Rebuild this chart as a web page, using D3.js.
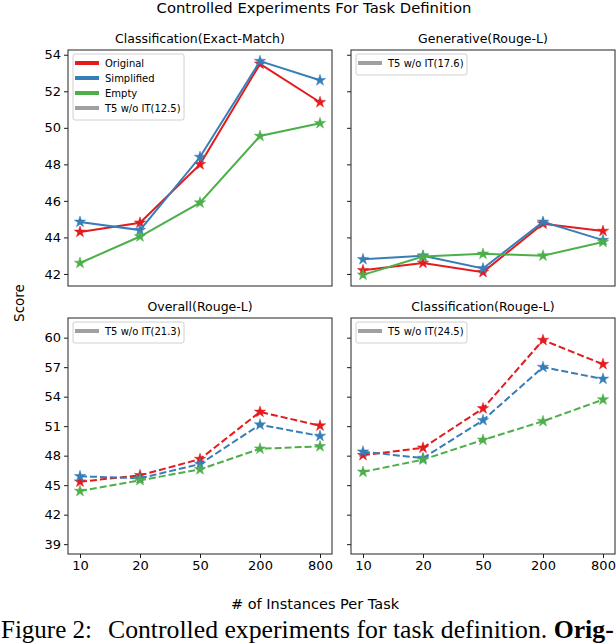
<!DOCTYPE html>
<html>
<head>
<meta charset="utf-8">
<script src="https://cdn.jsdelivr.net/npm/d3@7"></script>
<style>
  body { margin: 0; background: #fff; }
  text { font-family: "DejaVu Sans", sans-serif; fill: #000; }
</style>
</head>
<body>
<div id="chart"></div>
<script>
var instances = ["10", "20", "50", "200", "800"];
var seriesNames = ["Original", "Simplified", "Empty"];
var seriesColors = ["#e41a1c", "#377eb8", "#4daf4a"];

// Classification(Exact-Match)
var clsEmOriginal   = [44.3, 44.8, 48.0, 53.5, 51.4];
var clsEmSimplified = [44.85, 44.4, 48.4, 53.65, 52.6];
var clsEmEmpty      = [42.6, 44.05, 45.9, 49.55, 50.25];

// Generative(Rouge-L)
var genOriginal   = [42.2, 42.6, 42.1, 44.75, 44.35];
var genSimplified = [42.8, 43.0, 42.3, 44.85, 43.85];
var genEmpty      = [41.95, 42.95, 43.1, 43.0, 43.75];

// Overall(Rouge-L)
var allOriginal   = [45.35, 46.0, 47.65, 52.45, 51.05];
var allSimplified = [45.9, 45.7, 47.15, 51.15, 50.0];
var allEmpty      = [44.4, 45.5, 46.6, 48.7, 48.95];

// Classification(Rouge-L)
var clsRlOriginal   = [48.05, 48.8, 52.8, 59.75, 57.3];
var clsRlSimplified = [48.4, 47.75, 51.6, 57.0, 55.8];
var clsRlEmpty      = [46.35, 47.6, 49.6, 51.5, 53.7];

var topTicks = [42, 44, 46, 48, 50, 52, 54];
var bottomTicks = [39, 42, 45, 48, 51, 54, 57, 60];
var t5Labels = ["T5 w/o IT(12.5)", "T5 w/o IT(17.6)", "T5 w/o IT(21.3)", "T5 w/o IT(24.5)"];

var panels = [
  {title: "Classification(Exact-Match)", data: [clsEmOriginal, clsEmSimplified, clsEmEmpty],
   left: 68, top: 50, row: 0, col: 0, t5: t5Labels[0], full: true},
  {title: "Generative(Rouge-L)", data: [genOriginal, genSimplified, genEmpty],
   left: 351, top: 50, row: 0, col: 1, t5: t5Labels[1]},
  {title: "Overall(Rouge-L)", data: [allOriginal, allSimplified, allEmpty],
   left: 68, top: 318, row: 1, col: 0, t5: t5Labels[2]},
  {title: "Classification(Rouge-L)", data: [clsRlOriginal, clsRlSimplified, clsRlEmpty],
   left: 351, top: 318, row: 1, col: 1, t5: t5Labels[3]}
];

var W = 616, H = 644;
var pw = 264, ph = 236;

var svg = d3.select("#chart").append("svg")
    .attr("width", W)
    .attr("height", H);

svg.append("text")
    .attr("x", 314).attr("y", 13)
    .attr("text-anchor", "middle")
    .style("font-size", "14.8px")
    .text("Controlled Experiments For Task Definition");

var x = d3.scaleLinear().domain([-0.2, 4.2]).range([0, pw]);
var yTop = d3.scaleLinear().domain([41.34, 54.26]).range([ph, 0]);
var yBottom = d3.scaleLinear().domain([38, 62]).range([ph, 0]);

var star = d3.symbol().type(d3.symbolStar).size(40);

panels.forEach(function(p) {
  var y = p.row == 0 ? yTop : yBottom;
  var g = svg.append("g").attr("transform", "translate(" + p.left + "," + p.top + ")");

  g.append("text")
      .attr("x", pw / 2).attr("y", -7)
      .attr("text-anchor", "middle")
      .style("font-size", "12.5px")
      .text(p.title);

  var yAxis = d3.axisLeft(y).tickValues(p.row == 0 ? topTicks : bottomTicks)
      .tickSize(4).tickPadding(3);
  if (p.col == 1) yAxis.tickFormat("");
  g.append("g").attr("class", "yaxis").call(yAxis);

  if (p.row == 1) {
    g.append("g")
        .attr("transform", "translate(0," + ph + ")")
        .call(d3.axisBottom(x).tickValues(d3.range(instances.length))
          .tickFormat(function(i) { return instances[i]; })
          .tickSize(4).tickPadding(3));
  }
  g.selectAll(".domain").remove();
  g.selectAll(".tick line").attr("stroke", "#000").attr("stroke-width", 0.9);
  g.selectAll(".tick text").style("font-size", "13px").style("font-family", "DejaVu Sans");

  var line = d3.line()
      .x(function(d, i) { return x(i); })
      .y(function(d) { return y(d); });

  p.data.forEach(function(vals, k) {
    g.append("path")
        .datum(vals)
        .attr("d", line)
        .attr("fill", "none")
        .attr("stroke", seriesColors[k])
        .attr("stroke-width", 2)
        .attr("stroke-dasharray", p.row == 1 ? "7,3" : null);
    g.selectAll(".pt" + k)
        .data(vals)
        .enter().append("path")
        .attr("d", star)
        .attr("transform", function(d, i) { return "translate(" + x(i) + "," + y(d) + ")"; })
        .attr("fill", seriesColors[k])
        .attr("stroke", seriesColors[k])
        .attr("stroke-width", 0.5);
  });

  g.append("rect")
      .attr("width", pw).attr("height", ph)
      .attr("fill", "none")
      .attr("stroke", "#222")
      .attr("stroke-width", 1);

  // legend
  var items = p.full ? seriesNames.concat([p.t5]) : [p.t5];
  var colors = p.full ? seriesColors.concat(["#a0a0a0"]) : ["#a0a0a0"];
  var lg = g.append("g").attr("transform", "translate(5,4)");
  lg.append("rect")
      .attr("width", 111).attr("height", 6 + items.length * 15)
      .attr("rx", 2)
      .attr("fill", "#fff").attr("fill-opacity", 0.8)
      .attr("stroke", "#d0d0d0").attr("stroke-width", 1);
  items.forEach(function(name, i) {
    var cy = 9 + i * 15;
    lg.append("line")
        .attr("x1", 2).attr("x2", 26)
        .attr("y1", cy).attr("y2", cy)
        .attr("stroke", colors[i])
        .attr("stroke-width", 4);
    lg.append("text")
        .attr("x", 32).attr("y", cy + 4)
        .style("font-size", "10px")
        .text(name);
  });
});

svg.append("text")
    .attr("transform", "translate(24,303) rotate(-90)")
    .attr("text-anchor", "middle")
    .style("font-size", "13.5px")
    .text("Score");

svg.append("text")
    .attr("x", 315).attr("y", 609)
    .attr("text-anchor", "middle")
    .style("font-size", "14.5px")
    .text("# of Instances Per Task");

// caption line under the figure
svg.append("text")
    .attr("x", 1).attr("y", 638)
    .style("font-family", "Liberation Serif, serif")
    .style("font-size", "25px")
    .text("Figure 2:");
var cap = svg.append("text")
    .attr("x", 108).attr("y", 638)
    .style("font-family", "Liberation Serif, serif")
    .style("font-size", "22px");
cap.append("tspan").style("font-family", "Liberation Serif, serif")
    .text("Controlled experiments for task definition. ");
cap.append("tspan").style("font-family", "Liberation Serif, serif")
    .style("font-weight", "bold").text("Orig-");
var cw = cap.node().getComputedTextLength();
cap.style("font-size", (22 * 506 / cw) + "px");
</script>
</body>
</html>
